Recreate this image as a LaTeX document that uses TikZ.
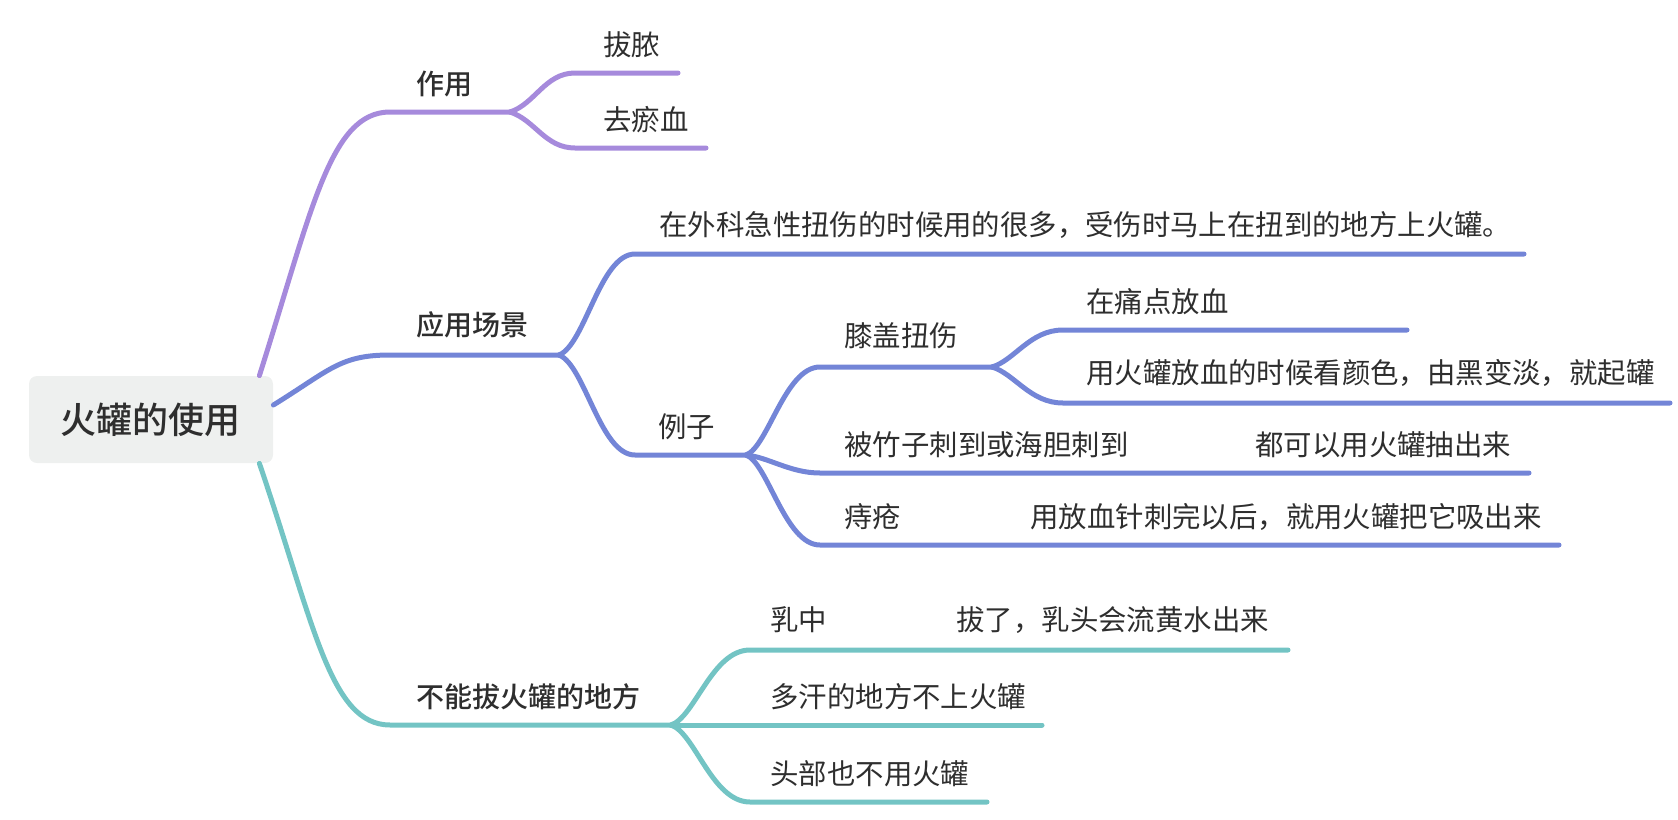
\documentclass[tikz,border=0pt]{standalone}
\usepackage{fontspec}
\setmainfont{Noto Sans CJK SC}[BoldFont={Noto Sans CJK SC Medium}]
\definecolor{zuoyong}{HTML}{A68ADC}
\definecolor{changjing}{HTML}{7385D7}
\definecolor{buneng}{HTML}{73C4C4}
\definecolor{wenzi}{HTML}{2E2E2E}
\definecolor{genbg}{HTML}{EEF0EF}
\tikzset{
	zhi/.style={line width=2.5pt,line cap=round},
	ye/.style={anchor=base west,inner sep=0pt,text=wenzi,font=\fontsize{14.2}{17}\selectfont},
	zhu/.style={anchor=base west,inner sep=0pt,text=wenzi,font=\fontsize{14}{17}\selectfont\bfseries}
}
\begin{document}
\begin{tikzpicture}[x=0.5pt,y=-0.5pt]
		\useasboundingbox (0,0) rectangle (1678,820);
		\node[fill=genbg,rounded corners=4pt,inner sep=0pt,minimum width=122pt,minimum height=43.5pt,text=wenzi,font=\fontsize{18}{20}\selectfont\bfseries] (gen) at (151,419.5) {火罐的使用};
		% zuo yong
		\path (390,112)coordinate(zy1) (510,112)coordinate(zy) (575,73)coordinate(bn1) (678,73)coordinate(bn) (575,148)coordinate(qy1) (706,148)coordinate(qy);
		\draw[zhi,zuoyong] ([xshift=-7pt]gen.north east) .. controls (312,210) and (330,112) .. (zy1) -- (zy);
		\draw[zhi,zuoyong] (zy) .. controls (535,104) and (545,73) .. (bn1) -- (bn);
		\draw[zhi,zuoyong] (zy) .. controls (535,120) and (545,148) .. (qy1) -- (qy);
		\node[zhu] (tzy) at (416,94) {作用};
		\node[ye] (tbn) at (603,55) {拔脓};
		\node[ye] (tqy) at (603,130) {去瘀血};
		% ying yong chang jing
		\path (390,355)coordinate(cj1) (559,355)coordinate(cj) (635,254)coordinate(wk1) (1524,254)coordinate(wk) (635,455)coordinate(lz1) (746,455)coordinate(lz);
		\draw[zhi,changjing] ([yshift=7.25pt]gen.east) .. controls (330,370) and (340,355) .. (cj1) -- (cj);
		\draw[zhi,changjing] (cj) .. controls (585,345) and (600,254) .. (wk1) -- (wk);
		\draw[zhi,changjing] (cj) .. controls (585,365) and (600,455) .. (lz1) -- (lz);
		\node[zhu] (tcj) at (416,335) {应用场景};
		\node[ye] (twk) at (659,235) {在外科急性扭伤的时候用的很多，受伤时马上在扭到的地方上火罐。};
		\node[ye] (tlz) at (658,437) {例子};
		\path (820,367)coordinate(xg1) (992,367)coordinate(xg) (820,473)coordinate(zz1) (1529,473)coordinate(zz) (820,545)coordinate(zc1) (1559,545)coordinate(zc);
		\draw[zhi,changjing] (lz) .. controls (768,447) and (785,367) .. (xg1) -- (xg);
		\draw[zhi,changjing] (lz) .. controls (768,457) and (790,473) .. (zz1) -- (zz);
		\draw[zhi,changjing] (lz) .. controls (768,463) and (785,545) .. (zc1) -- (zc);
		\node[ye] (txg) at (844,346) {膝盖扭伤};
		\node[ye] (tzz) at (844,455) {\makebox[205.5pt][l]{被竹子刺到或海胆刺到}都可以用火罐抽出来};
		\node[ye] (tzc) at (844,527) {\makebox[93pt][l]{痔疮}用放血针刺完以后，就用火罐把它吸出来};
		\path (1063,330)coordinate(td1) (1407,330)coordinate(td) (1063,403)coordinate(fx1) (1670,403)coordinate(fx);
		\draw[zhi,changjing] (xg) .. controls (1015,360) and (1030,330) .. (td1) -- (td);
		\draw[zhi,changjing] (xg) .. controls (1015,374) and (1030,403) .. (fx1) -- (fx);
		\node[ye] (ttd) at (1086,312) {在痛点放血};
		\node[ye] (tfx) at (1086,383) {用火罐放血的时候看颜色，由黑变淡，就起罐};
		% bu neng
		\path (390,725)coordinate(bn1) (671,725)coordinate(bnd) (750,650)coordinate(rz1) (1288,650)coordinate(rz) (1042,725)coordinate(dh) (750,802)coordinate(tb1) (987,802)coordinate(tb);
		\draw[zhi,buneng] ([xshift=-7pt]gen.south east) .. controls (314,624) and (330,725) .. (bn1) -- (bnd);
		\draw[zhi,buneng] (bnd) .. controls (695,717) and (712,650) .. (rz1) -- (rz);
		\draw[zhi,buneng] (bnd) -- (dh);
		\draw[zhi,buneng] (bnd) .. controls (695,733) and (712,802) .. (tb1) -- (tb);
		\node[zhu] (tbnd) at (416,707) {不能拔火罐的地方};
		\node[ye] (trz) at (770,630) {\makebox[93pt][l]{乳中}拔了，乳头会流黄水出来};
		\node[ye] (tdh) at (770,707) {多汗的地方不上火罐};
		\node[ye] (ttb) at (770,784) {头部也不用火罐};
\end{tikzpicture}
\end{document}
